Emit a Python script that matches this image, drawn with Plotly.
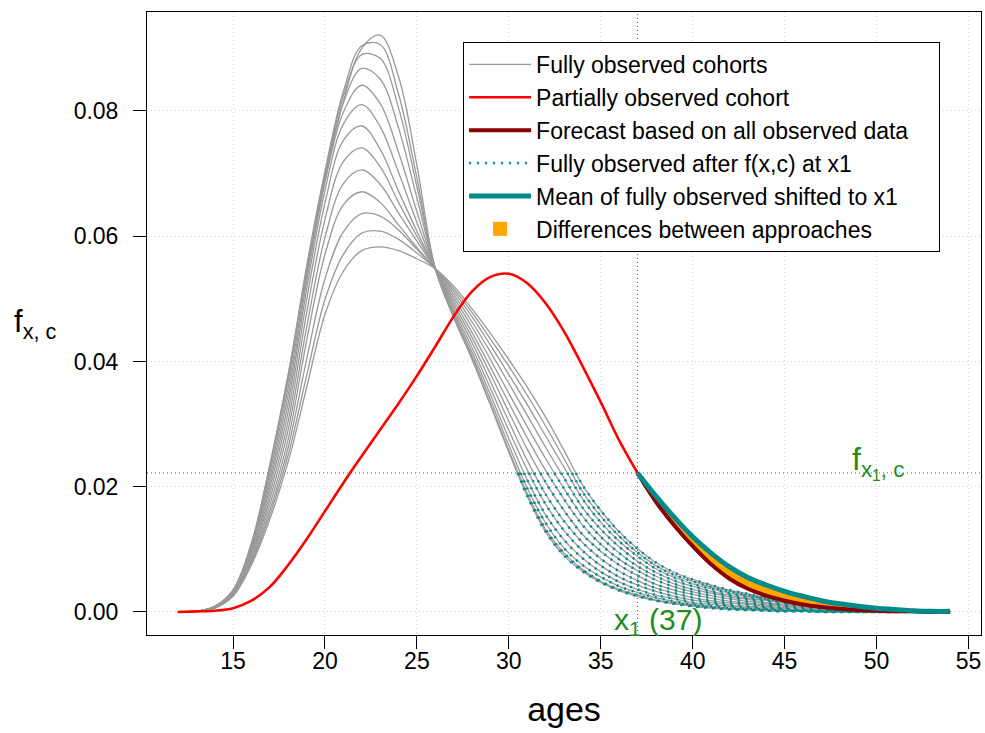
import numpy as np
import plotly.graph_objects as go

# Single-year ages shared by every cohort curve
ages = list(range(12, 55))

# Age-specific densities f(x, c) of the fully observed cohorts
cohort_01 = [0.0000, 0.0001, 0.0009, 0.0035, 0.0110, 0.0235, 0.0380, 0.0545, 0.0690, 0.0815,
             0.0900, 0.0921, 0.0855, 0.0713, 0.0548, 0.0470, 0.0403, 0.0330, 0.0255, 0.0185,
             0.0128, 0.0090, 0.0065, 0.0047, 0.0034, 0.0025, 0.0018, 0.0013, 0.0009, 0.0006,
             0.0004, 0.0003, 0.0002, 0.0001, 0.0001, 0.0000, 0.0000, 0.0000, 0.0000, 0.0000,
             0.0000, 0.0000, 0.0000]
cohort_02 = [0.0000, 0.0001, 0.0009, 0.0035, 0.0109, 0.0233, 0.0377, 0.0552, 0.0704, 0.0831,
             0.0904, 0.0906, 0.0827, 0.0693, 0.0548, 0.0471, 0.0405, 0.0332, 0.0258, 0.0189,
             0.0132, 0.0094, 0.0068, 0.0049, 0.0036, 0.0027, 0.0019, 0.0014, 0.0010, 0.0007,
             0.0005, 0.0004, 0.0002, 0.0001, 0.0001, 0.0000, 0.0000, 0.0000, 0.0000, 0.0000,
             0.0000, 0.0000, 0.0000]
cohort_03 = [0.0000, 0.0001, 0.0009, 0.0034, 0.0107, 0.0229, 0.0370, 0.0546, 0.0698, 0.0824,
             0.0890, 0.0884, 0.0805, 0.0679, 0.0548, 0.0474, 0.0409, 0.0339, 0.0266, 0.0198,
             0.0142, 0.0102, 0.0075, 0.0056, 0.0041, 0.0031, 0.0023, 0.0017, 0.0012, 0.0009,
             0.0006, 0.0005, 0.0004, 0.0002, 0.0002, 0.0001, 0.0001, 0.0000, 0.0000, 0.0000,
             0.0000, 0.0000, 0.0000]
cohort_04 = [0.0000, 0.0001, 0.0009, 0.0034, 0.0105, 0.0222, 0.0359, 0.0537, 0.0694, 0.0813,
             0.0868, 0.0851, 0.0773, 0.0661, 0.0548, 0.0478, 0.0415, 0.0347, 0.0277, 0.0211,
             0.0155, 0.0115, 0.0086, 0.0064, 0.0048, 0.0036, 0.0027, 0.0021, 0.0015, 0.0012,
             0.0009, 0.0007, 0.0005, 0.0004, 0.0003, 0.0002, 0.0001, 0.0001, 0.0001, 0.0001,
             0.0000, 0.0000, 0.0000]
cohort_05 = [0.0000, 0.0001, 0.0008, 0.0033, 0.0102, 0.0214, 0.0347, 0.0527, 0.0686, 0.0798,
             0.0841, 0.0812, 0.0734, 0.0639, 0.0548, 0.0482, 0.0422, 0.0357, 0.0290, 0.0227,
             0.0172, 0.0130, 0.0098, 0.0074, 0.0056, 0.0043, 0.0033, 0.0025, 0.0019, 0.0015,
             0.0011, 0.0009, 0.0007, 0.0005, 0.0004, 0.0003, 0.0002, 0.0001, 0.0001, 0.0001,
             0.0001, 0.0000, 0.0000]
cohort_06 = [0.0000, 0.0001, 0.0008, 0.0032, 0.0098, 0.0206, 0.0334, 0.0515, 0.0673, 0.0779,
             0.0810, 0.0775, 0.0702, 0.0622, 0.0548, 0.0487, 0.0430, 0.0368, 0.0304, 0.0242,
             0.0188, 0.0145, 0.0111, 0.0085, 0.0065, 0.0050, 0.0038, 0.0030, 0.0023, 0.0018,
             0.0014, 0.0012, 0.0009, 0.0007, 0.0006, 0.0004, 0.0003, 0.0002, 0.0002, 0.0001,
             0.0001, 0.0001, 0.0000]
cohort_07 = [0.0000, 0.0001, 0.0008, 0.0031, 0.0095, 0.0198, 0.0320, 0.0498, 0.0653, 0.0753,
             0.0776, 0.0739, 0.0672, 0.0608, 0.0548, 0.0492, 0.0438, 0.0380, 0.0319, 0.0260,
             0.0207, 0.0162, 0.0124, 0.0097, 0.0075, 0.0058, 0.0044, 0.0035, 0.0028, 0.0022,
             0.0017, 0.0014, 0.0011, 0.0009, 0.0007, 0.0005, 0.0003, 0.0003, 0.0002, 0.0002,
             0.0001, 0.0001, 0.0000]
cohort_08 = [0.0000, 0.0001, 0.0007, 0.0030, 0.0091, 0.0189, 0.0305, 0.0477, 0.0627, 0.0719,
             0.0741, 0.0711, 0.0654, 0.0600, 0.0548, 0.0497, 0.0446, 0.0391, 0.0334, 0.0278,
             0.0226, 0.0180, 0.0139, 0.0108, 0.0084, 0.0066, 0.0051, 0.0040, 0.0032, 0.0026,
             0.0021, 0.0017, 0.0013, 0.0011, 0.0008, 0.0006, 0.0004, 0.0003, 0.0003, 0.0002,
             0.0002, 0.0001, 0.0001]
cohort_09 = [0.0000, 0.0001, 0.0007, 0.0029, 0.0088, 0.0180, 0.0291, 0.0454, 0.0598, 0.0684,
             0.0706, 0.0683, 0.0637, 0.0592, 0.0548, 0.0502, 0.0455, 0.0403, 0.0349, 0.0296,
             0.0245, 0.0197, 0.0153, 0.0120, 0.0094, 0.0073, 0.0057, 0.0045, 0.0036, 0.0030,
             0.0024, 0.0020, 0.0015, 0.0012, 0.0010, 0.0007, 0.0005, 0.0004, 0.0003, 0.0003,
             0.0002, 0.0001, 0.0001]
cohort_10 = [0.0000, 0.0001, 0.0007, 0.0028, 0.0084, 0.0171, 0.0276, 0.0433, 0.0571, 0.0650,
             0.0671, 0.0654, 0.0618, 0.0582, 0.0548, 0.0507, 0.0463, 0.0415, 0.0365, 0.0314,
             0.0263, 0.0214, 0.0167, 0.0132, 0.0104, 0.0081, 0.0063, 0.0050, 0.0041, 0.0033,
             0.0027, 0.0022, 0.0018, 0.0014, 0.0011, 0.0008, 0.0006, 0.0004, 0.0004, 0.0003,
             0.0002, 0.0001, 0.0001]
cohort_11 = [0.0000, 0.0001, 0.0006, 0.0027, 0.0081, 0.0162, 0.0263, 0.0403, 0.0532, 0.0607,
             0.0636, 0.0632, 0.0610, 0.0579, 0.0548, 0.0512, 0.0471, 0.0426, 0.0379, 0.0331,
             0.0281, 0.0231, 0.0181, 0.0143, 0.0113, 0.0089, 0.0069, 0.0055, 0.0045, 0.0037,
             0.0030, 0.0025, 0.0020, 0.0016, 0.0013, 0.0009, 0.0007, 0.0005, 0.0004, 0.0003,
             0.0003, 0.0002, 0.0001]
cohort_12 = [0.0000, 0.0001, 0.0006, 0.0026, 0.0078, 0.0155, 0.0251, 0.0377, 0.0499, 0.0571,
             0.0605, 0.0608, 0.0595, 0.0573, 0.0548, 0.0516, 0.0478, 0.0436, 0.0392, 0.0346,
             0.0297, 0.0245, 0.0192, 0.0153, 0.0121, 0.0095, 0.0074, 0.0059, 0.0049, 0.0040,
             0.0033, 0.0027, 0.0021, 0.0018, 0.0014, 0.0010, 0.0007, 0.0006, 0.0005, 0.0004,
             0.0003, 0.0002, 0.0001]
cohort_13 = [0.0000, 0.0001, 0.0006, 0.0025, 0.0075, 0.0148, 0.0240, 0.0358, 0.0475, 0.0544,
             0.0577, 0.0583, 0.0577, 0.0564, 0.0548, 0.0520, 0.0484, 0.0445, 0.0403, 0.0359,
             0.0311, 0.0258, 0.0203, 0.0162, 0.0128, 0.0101, 0.0079, 0.0063, 0.0052, 0.0043,
             0.0035, 0.0029, 0.0023, 0.0019, 0.0015, 0.0011, 0.0008, 0.0006, 0.0005, 0.0004,
             0.0003, 0.0002, 0.0001]
cohorts = [cohort_01, cohort_02, cohort_03, cohort_04, cohort_05, cohort_06, cohort_07,
           cohort_08, cohort_09, cohort_10, cohort_11, cohort_12, cohort_13]

# Partially observed cohort, seen up to the jump-off age x1
x1 = 37
partial_ages = list(range(12, 38))
partial_values = [0.0000, 0.0001, 0.0002, 0.0006, 0.0018, 0.0040, 0.0075, 0.0116, 0.0161, 0.0206,
                  0.0249, 0.0291, 0.0333, 0.0377, 0.0424, 0.0472, 0.0512, 0.0535, 0.0540, 0.0525,
                  0.0493, 0.0448, 0.0393, 0.0335, 0.0274, 0.0222]
f_x1 = partial_values[-1]

# Completions of the partially observed cohort after x1
forecast_ages = list(range(37, 55))
forecast_values = [0.0222, 0.0176, 0.0138, 0.0105, 0.0076, 0.0053, 0.0037, 0.0026, 0.0018, 0.0012,
                   0.0008, 0.0005, 0.0003, 0.0002, 0.0001, 0.0001, 0.0000, 0.0000]
mean_shifted_values = [0.0222, 0.0185, 0.0151, 0.0120, 0.0094, 0.0072, 0.0055, 0.0043, 0.0033, 0.0025,
                       0.0018, 0.0013, 0.0009, 0.0006, 0.0004, 0.0002, 0.0001, 0.0001]

GRAY = "#999999"
RED = "#FF0000"
DARKRED = "#8B0000"
TEAL = "#008B8B"
ORANGE = "#FFA500"
GREEN = "#228B22"
FONT = "Liberation Sans, Arial, Helvetica, sans-serif"
DOTS = "1px,3px"
PAD = "\u00a0" * 4  # widens the legend box on the right


def tail_after(values):
    """Part of a cohort curve from where it falls to f_x1 after its peak."""
    v = np.asarray(values, dtype=float)
    a = np.asarray(ages, dtype=float)
    p = int(np.argmax(v))
    j = p + int(np.argmax(v[p:] <= f_x1))
    t = (v[j - 1] - f_x1) / (v[j - 1] - v[j])
    xc = a[j - 1] + t * (a[j] - a[j - 1])
    return [xc] + list(a[j:]), [f_x1] + list(v[j:])


fig = go.Figure()

for i, vals in enumerate(cohorts):
    fig.add_trace(go.Scatter(
        x=ages, y=vals, mode="lines", name="Fully observed cohorts",
        line=dict(color=GRAY, width=1.3, shape="spline"),
        legendgroup="full", showlegend=(i == 0), legendrank=1, hoverinfo="skip"))

fig.add_trace(go.Scatter(
    x=partial_ages, y=partial_values, mode="lines", name="Partially observed cohort",
    line=dict(color=RED, width=2.6, shape="spline"), legendrank=2, hoverinfo="skip"))

for i, vals in enumerate(cohorts):
    tx, ty = tail_after(vals)
    fig.add_trace(go.Scatter(
        x=tx, y=ty, mode="lines", name="Fully observed after f(x,c) at x1",
        line=dict(color=TEAL, width=2.5, dash="2px,6px", shape="spline"),
        legendgroup="tail", showlegend=(i == 0), legendrank=4, hoverinfo="skip"))

fig.add_trace(go.Scatter(
    x=forecast_ages, y=forecast_values, mode="lines",
    name="Forecast based on all observed data" + PAD,
    line=dict(color=DARKRED, width=4, shape="spline"), legendrank=3, hoverinfo="skip"))

# Orange band between the two completions
fig.add_trace(go.Scatter(
    x=forecast_ages, y=mean_shifted_values, mode="lines", fill="tonexty", fillcolor=ORANGE,
    line=dict(width=0, shape="spline"), showlegend=False, hoverinfo="skip"))

fig.add_trace(go.Scatter(
    x=forecast_ages, y=mean_shifted_values, mode="lines", name="Mean of fully observed shifted to x1",
    line=dict(color=TEAL, width=5, shape="spline"), legendrank=5, hoverinfo="skip"))

fig.add_trace(go.Scatter(
    x=[None], y=[None], mode="markers", name="Differences between approaches",
    marker=dict(symbol="square", color=ORANGE, size=14), legendrank=6))

# Reference lines at the jump-off age and the last observed density
fig.add_shape(type="line", x0=x1, x1=x1, y0=0, y1=1, xref="x", yref="paper",
              line=dict(color=GREEN, width=1, dash=DOTS), layer="below")
fig.add_shape(type="line", x0=0, x1=1, y0=f_x1, y1=f_x1, xref="paper", yref="y",
              line=dict(color=GREEN, width=1, dash=DOTS), layer="below")

fig.add_annotation(x=-0.134, y=0.5, xref="paper", yref="paper", xanchor="center",
                   text="f<sub>x, c</sub>", showarrow=False, font=dict(size=31, color="black"))
fig.add_annotation(x=x1 + 1.1, y=-0.0015, xanchor="center", text=f"x<sub>1</sub> ({x1})",
                   showarrow=False, font=dict(size=30, color=GREEN))
fig.add_annotation(x=50.1, y=f_x1 + 0.0016, xanchor="center", text="f<sub>x<sub>1</sub>, c</sub>",
                   showarrow=False, font=dict(size=32, color=GREEN))

fig.update_layout(
    width=985, height=733, margin=dict(l=147, r=4, t=12, b=98),
    paper_bgcolor="white", plot_bgcolor="white",
    font=dict(family=FONT, size=23, color="black"),
    legend=dict(x=0.379, y=0.952, xanchor="left", yanchor="top", bgcolor="white",
                bordercolor="black", borderwidth=1, font=dict(size=23), itemwidth=62,
                tracegroupgap=0),
)
fig.update_xaxes(
    range=[10.32, 55.68], tickvals=list(range(15, 56, 5)), ticks="outside", ticklen=13,
    tickcolor="black", showline=True, linecolor="black", linewidth=1, mirror=True,
    showgrid=True, gridcolor="#D3D3D3", griddash=DOTS, zeroline=False,
    ticklabelstandoff=-8, title=dict(text="ages", font=dict(size=34), standoff=24))
fig.update_yaxes(
    range=[-0.00368, 0.0958], tickvals=[0, 0.02, 0.04, 0.06, 0.08],
    ticktext=["0.00", "0.02", "0.04", "0.06", "0.08"], ticks="outside", ticklen=13,
    tickcolor="black", showline=True, linecolor="black", linewidth=1, mirror=True,
    showgrid=True, gridcolor="#D3D3D3", griddash=DOTS, zeroline=False,
    ticklabelstandoff=10)

fig.write_html("out.html")
